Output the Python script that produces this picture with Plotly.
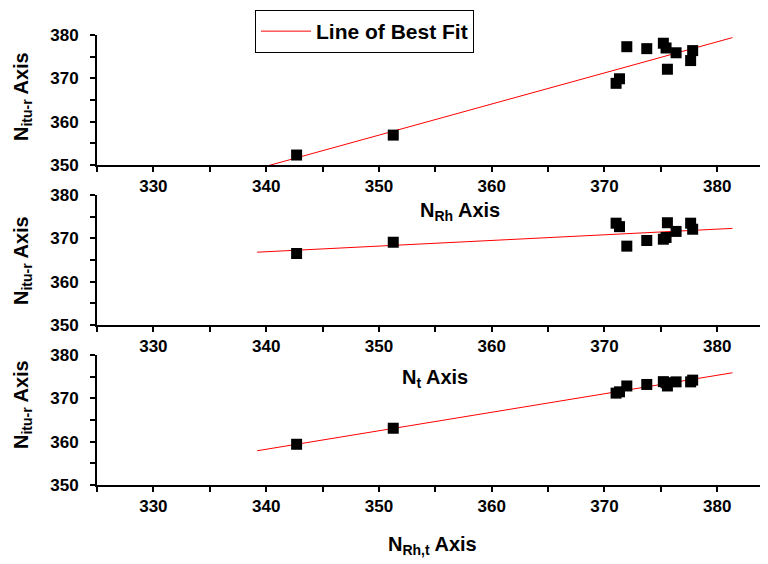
import plotly.graph_objects as go

# Shared x values (same stations in each panel)
x_vals = [342.7, 351.27, 371.03, 371.33, 371.98, 373.75, 375.22, 375.46, 375.58, 376.35, 377.64, 377.82]

# Panel 1: N_itu-r vs N_Rh
y_rh = [352.3, 356.9, 368.85, 369.9, 377.3, 376.85, 378.1, 377.0, 372.1, 375.9, 374.1, 376.4]
# Panel 2: N_itu-r vs N_t
y_t = [366.5, 369.1, 373.5, 372.7, 368.2, 369.5, 369.8, 370.2, 373.6, 371.6, 373.5, 372.1]
# Panel 3: N_itu-r vs N_Rh,t
y_rht = [359.4, 363.1, 371.2, 371.5, 372.85, 373.2, 373.85, 373.6, 372.85, 373.8, 373.8, 374.2]

# Best-fit line endpoints
fit_x = [339.2, 381.35]
fit_rh = [349.14, 379.4]
fit_t = [366.8, 372.3]
fit_rht = [357.9, 375.9]

x_ticks = [330, 340, 350, 360, 370, 380]
y_ticks = [350, 360, 370, 380]

fig = go.Figure()

panels = [("x", "y", y_rh, fit_rh, True), ("x2", "y2", y_t, fit_t, False), ("x3", "y3", y_rht, fit_rht, False)]
for xa, ya, ys, fy, show in panels:
    fig.add_trace(go.Scatter(x=fit_x, y=fy, mode="lines", line=dict(color="#ff0000", width=1),
                             name="Line of Best Fit", showlegend=show, xaxis=xa, yaxis=ya))
    fig.add_trace(go.Scatter(x=x_vals, y=ys, mode="markers",
                             marker=dict(symbol="square", size=11, color="black"),
                             showlegend=False, xaxis=xa, yaxis=ya))

tickfont = dict(family="Liberation Sans, Arial, sans-serif", size=17, color="black", weight="bold")
common_x = dict(range=[325, 384.5], tickvals=x_ticks, showline=True, linecolor="black", linewidth=2,
                ticks="outside", ticklen=5, tickwidth=2, tickcolor="black", showgrid=False, zeroline=False,
                tickfont=tickfont, automargin=False,
                minor=dict(dtick=5, tick0=325, ticks="outside", ticklen=5, tickwidth=2, tickcolor="black"))
common_y = dict(range=[350, 380], tickvals=y_ticks, showline=True, linecolor="black", linewidth=2,
                ticks="outside", ticklen=5, tickwidth=2, tickcolor="black", showgrid=False, zeroline=False,
                tickfont=tickfont, ticklabelstandoff=8, automargin=False,
                minor=dict(dtick=5, tick0=350, ticks="outside", ticklen=5, tickwidth=2, tickcolor="black"))

# The page body has an 8px margin, so the figure is 8px smaller and margins shifted accordingly.
fig.update_layout(
    width=760, height=556,
    margin=dict(l=89, r=0, t=27, b=79, autoexpand=False),
    paper_bgcolor="white", plot_bgcolor="white",
    xaxis=dict(common_x, domain=[0, 1], anchor="y"),
    yaxis=dict(common_y, domain=[0.7111, 1.0], anchor="x"),
    xaxis2=dict(common_x, domain=[0, 1], anchor="y2"),
    yaxis2=dict(common_y, domain=[0.3556, 0.6444], anchor="x2"),
    xaxis3=dict(common_x, domain=[0, 1], anchor="y3"),
    yaxis3=dict(common_y, domain=[0.0, 0.2889], anchor="x3"),
    showlegend=True,
    legend=dict(x=0.2355, y=1.0556, xanchor="left", yanchor="top", bgcolor="white",
                bordercolor="black", borderwidth=1, itemwidth=50,
                font=dict(family="Liberation Sans, Arial, sans-serif", size=21, color="black", weight="bold")),
)

title_font = dict(family="Liberation Sans, Arial, sans-serif", size=20, color="black", weight="bold")
pl, pw, pt, ph = 97, 671, 35, 450  # plot area in page pixels
annots = [
    dict(text="N<sub>Rh</sub> Axis", x=460, y=211),
    dict(text="N<sub>t</sub> Axis", x=435, y=378),
    dict(text="N<sub>Rh,t</sub> Axis", x=432, y=545),
]
for a in annots:
    fig.add_annotation(text=a["text"], x=(a["x"] - pl) / pw, y=1 - (a["y"] - pt) / ph, xref="paper", yref="paper",
                       showarrow=False, font=title_font, xanchor="center", yanchor="middle")
for yc in [97, 261, 405]:
    fig.add_annotation(text="N<sub>itu-r</sub> Axis", x=(22 - pl) / pw, y=1 - (yc - pt) / ph,
                       xref="paper", yref="paper", textangle=-90, showarrow=False, font=title_font,
                       xanchor="center", yanchor="middle")

fig.write_html("out.html")
